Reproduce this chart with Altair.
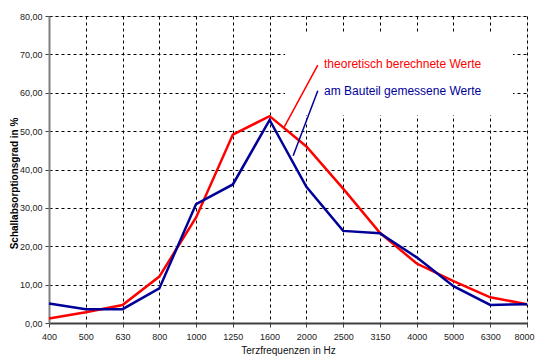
import altair as alt
import pandas as pd

freqs = ["400", "500", "630", "800", "1000", "1250", "1600", "2000",
         "2500", "3150", "4000", "5000", "6300", "8000"]
theoretical = [1.2, 2.8, 4.7, 12.1, 27.5, 49.1, 53.9, 46.0, 35.0, 23.5, 15.5, 10.9, 6.7, 4.9]
measured = [5.1, 3.6, 3.6, 9.0, 31.0, 36.1, 52.9, 35.5, 24.0, 23.4, 17.1, 9.6, 4.7, 4.9]
y_ticks = [0, 10, 20, 30, 40, 50, 60, 70, 80]

label_texts = ["theoretisch berechnete Werte", "am Bauteil gemessene Werte"]
label_colors = ["#FF0000", "#000099"]
label_x = [7.48, 7.48]
label_y = [67.5, 60.5]
# leader lines (data units: category index, percent)
leader_x1 = [7.31, 7.31]
leader_y1 = [67.2, 60.5]
leader_x2 = [6.40, 6.64]
leader_y2 = [51.1, 43.6]
# white text-box background (data units)
box_x = [6.42]
box_x2 = [12.62]
box_y = [54.2]
box_y2 = [75.5]

idx = list(range(len(freqs)))
df_t = pd.DataFrame({"i": idx, "v": theoretical})
df_m = pd.DataFrame({"i": idx, "v": measured})
df_lab = pd.DataFrame({"x": label_x, "y": label_y, "t": label_texts, "c": label_colors})
df_lead = pd.DataFrame({"x": leader_x1, "y": leader_y1, "x2": leader_x2, "y2": leader_y2, "c": label_colors})
df_box = pd.DataFrame({"x": box_x, "x2": box_x2, "y": box_y, "y2": box_y2})

arr = "[" + ",".join("'%s'" % f for f in freqs) + "]"
FONT = "Liberation Sans"

xscale = alt.Scale(domain=[0, 13], nice=False, zero=False)
yscale = alt.Scale(domain=[0, 80], nice=False)

xaxis = alt.Axis(
    values=idx, tickCount=14, labelExpr=arr + "[datum.value]", title="Terzfrequenzen in Hz",
    grid=True, gridColor="#000000", gridDash=[3, 3], gridWidth=1,
    domainColor="#404040", domainWidth=2, tickColor="#404040", tickSize=4,
    labelFont=FONT, labelFontSize=9, labelColor="#222222", labelPadding=5,
    labelOverlap=False, labelFlush=False,
    labelOffset={"expr": "datum.value == 13 ? -3 : 0"},
    titleFont=FONT, titleFontSize=10, titleFontWeight="normal", titleColor="#111111",
    titleY=27, titleBaseline="middle", labelAngle=0,
)
yaxis = alt.Axis(
    values=y_ticks, tickCount=9,
    labelExpr="replace(format(datum.value, '.2f'), '.', ',')",
    title="Schallabsorptionsgrad in %",
    grid=True, gridColor="#000000", gridDash=[3, 3], gridWidth=1,
    domainColor="#808080", domainWidth=2, tickColor="#404040", tickSize=4,
    labelFont=FONT, labelFontSize=9, labelColor="#222222", labelPadding=3,
    labelOverlap=False, labelFlush=False,
    titleFont=FONT, titleFontSize=10, titleFontWeight="bold", titleColor="#000000",
    titleX=-35, titleY=167, titleBaseline="middle", titleAlign="center",
)


def X(field):
    return alt.X(field, scale=xscale, axis=xaxis)


def Y(field):
    return alt.Y(field, scale=yscale, axis=yaxis)


box = alt.Chart(df_box).mark_rect(color="white").encode(
    x=X("x:Q"), x2="x2:Q", y=Y("y:Q"), y2="y2:Q",
)

line_t = alt.Chart(df_t).mark_line(color="#FF0000", strokeWidth=2.5).encode(
    x=X("i:Q"), y=Y("v:Q")
)
line_m = alt.Chart(df_m).mark_line(color="#000099", strokeWidth=2.5).encode(
    x=X("i:Q"), y=Y("v:Q")
)

leaders = alt.Chart(df_lead).mark_rule(strokeWidth=1.5).encode(
    x=X("x:Q"), y=Y("y:Q"), x2="x2:Q", y2="y2:Q",
    color=alt.Color("c:N", scale=None),
)

labels = alt.Chart(df_lab).mark_text(align="left", baseline="middle", fontSize=12, font=FONT).encode(
    x=X("x:Q"), y=Y("y:Q"),
    text="t:N", color=alt.Color("c:N", scale=None),
)

chart = alt.layer(box, line_t, line_m, leaders, labels).properties(
    width=478, height=307,
    autosize=alt.AutoSizeParams(type="none"),
    padding={"left": 41, "top": 8, "right": 9, "bottom": 33},
).configure_view(stroke="#000000", strokeWidth=1).configure(background="white")

chart.save("out.html", embed_options={"renderer": "svg", "actions": False})
